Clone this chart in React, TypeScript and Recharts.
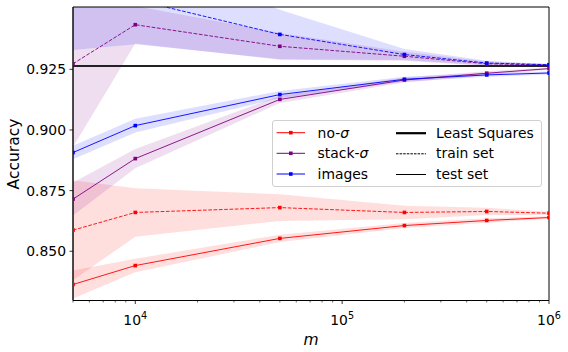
import {
  ComposedChart,
  Line,
  Area,
  XAxis,
  YAxis,
  ReferenceLine,
  ReferenceArea,
  Legend,
} from "recharts";

const M = [5000, 10000, 50000, 200000, 500000, 1000000];

const noSigmaTrain = [0.8587, 0.866, 0.868, 0.866, 0.8664, 0.8657];
const noSigmaTrainStd = [0.0206, 0.01, 0.0055, 0.0028, 0.0015, 0.0006];
const noSigmaTest = [0.8363, 0.8441, 0.8553, 0.8606, 0.8627, 0.8639];
const noSigmaTestStd = [0.0058, 0.0028, 0.0015, 0.001, 0.0009, 0.0005];

const stackTrain = [0.9273, 0.9434, 0.9345, 0.9304, 0.9273, 0.9268];
const stackTrainStd = [0.0343, 0.0077, 0.0055, 0.0019, 0.0009, 0.0004];
const stackTest = [0.8715, 0.8882, 0.9126, 0.9206, 0.9234, 0.9253];
const stackTestStd = [0.0068, 0.004, 0.0015, 0.001, 0.0008, 0.0005];

const imagesTrain = [0.958, 0.9537, 0.9394, 0.9311, 0.9276, 0.9269];
const imagesTrainStd = [0.025, 0.0184, 0.0102, 0.0023, 0.0009, 0.0003];
const imagesTest = [0.8907, 0.9018, 0.9146, 0.9209, 0.9227, 0.9235];
const imagesTestStd = [0.0028, 0.0028, 0.0015, 0.001, 0.0008, 0.0006];

const LEAST_SQUARES = 0.9264;

const X_TICKS = [
  5000, 6000, 7000, 8000, 9000, 10000, 20000, 30000, 40000, 50000, 60000,
  70000, 80000, 90000, 100000, 200000, 300000, 400000, 500000, 600000, 700000,
  800000, 900000, 1000000,
];
const Y_TICKS = [0.85, 0.875, 0.9, 0.925];
const Y_DOMAIN = [0.8297, 0.9507];

const FONT = "DejaVu Sans";

const SERIES = [
  { key: "no", name: "no-σ", color: "#ff0000", train: noSigmaTrain, trainStd: noSigmaTrainStd, test: noSigmaTest, testStd: noSigmaTestStd },
  { key: "stack", name: "stack-σ", color: "#800080", train: stackTrain, trainStd: stackTrainStd, test: stackTest, testStd: stackTestStd },
  { key: "images", name: "images", color: "#0000ff", train: imagesTrain, trainStd: imagesTrainStd, test: imagesTest, testStd: imagesTestStd },
];

const data = M.map((m, i) => {
  const row: Record<string, any> = { m };
  SERIES.forEach((s) => {
    row[`${s.key}Train`] = s.train[i];
    row[`${s.key}Test`] = s.test[i];
    row[`${s.key}TrainBand`] = [s.train[i] - s.trainStd[i], s.train[i] + s.trainStd[i]];
    row[`${s.key}TestBand`] = [s.test[i] - s.testStd[i], s.test[i] + s.testStd[i]];
  });
  return row;
});

const squareDot = (color: string) => (props: any) => {
  const { cx, cy, index } = props;
  if (cx == null || cy == null) return <g key={index} />;
  return <rect key={index} x={cx - 1.8} y={cy - 1.8} width={3.6} height={3.6} fill={color} />;
};

const LogTick = (props: any) => {
  const { x, y, payload } = props;
  const exp = Math.log10(payload.value);
  const major = Math.abs(exp - Math.round(exp)) < 1e-9;
  return (
    <g>
      <line x1={x} x2={x} y1={y} y2={y + (major ? 3.5 : 2)} stroke="#000" strokeWidth={major ? 0.8 : 0.6} />
      {major && (
        <text x={x} y={y + 24} textAnchor="middle" fontSize={13.9} fontFamily={FONT} fill="#000">
          10
          <tspan dy={-6} fontSize={9.7}>
            {Math.round(exp)}
          </tspan>
        </text>
      )}
    </g>
  );
};

const LegendBox = () => {
  const rows = [12.7, 33.3, 54];
  const right = [
    { label: "Least Squares", width: 2.2, dash: undefined },
    { label: "train set", width: 1, dash: "2.5 1.1" },
    { label: "test set", width: 1, dash: undefined },
  ];
  return (
    <div
      style={{
        position: "relative",
        width: 270,
        height: 67,
        boxSizing: "border-box",
        border: "1px solid #d0d0d0",
        borderRadius: 3,
        background: "rgba(255,255,255,0.8)",
      }}
    >
      <svg width={270} height={67} style={{ position: "absolute", left: -1, top: -1 }}>
        {SERIES.map((s, i) => (
          <g key={s.key}>
            <line x1={4.6} x2={33} y1={rows[i]} y2={rows[i]} stroke={s.color} strokeWidth={1} />
            <rect x={17} y={rows[i] - 1.8} width={3.6} height={3.6} fill={s.color} />
            <text x={45.6} y={rows[i]} dy="0.35em" fontSize={13.9} fontFamily={FONT} fill="#000">
              {s.name.endsWith("σ") ? (
                <>
                  {s.name.slice(0, -1)}
                  <tspan fontStyle="italic">σ</tspan>
                </>
              ) : (
                s.name
              )}
            </text>
          </g>
        ))}
        {right.map((r, i) => (
          <g key={r.label}>
            <line x1={124} x2={154} y1={rows[i] + 0.5} y2={rows[i] + 0.5} stroke="#000" strokeWidth={r.width} strokeDasharray={r.dash} />
            <text x={164} y={rows[i]} dy="0.35em" fontSize={13.9} fontFamily={FONT} fill="#000">
              {r.label}
            </text>
          </g>
        ))}
      </svg>
    </div>
  );
};

export default function App() {
  return (
    <div style={{ position: "absolute", left: 0, top: 0, width: 568, height: 352, background: "#fff" }}>
      <ComposedChart
        width={568}
        height={352}
        data={data}
        margin={{ top: 7, right: 19, bottom: 0, left: 0 }}
      >
        <XAxis
          dataKey="m"
          type="number"
          scale="log"
          domain={[5000, 1000000]}
          allowDataOverflow
          ticks={X_TICKS}
          interval={0}
          tick={<LogTick />}
          tickLine={false}
          tickSize={0}
          tickMargin={0}
          height={51.5}
          axisLine={{ stroke: "#000", strokeWidth: 0.8 }}
          label={{
            content: () => (
              <text x={311} y={345} textAnchor="middle" fontSize={15.5} fontStyle="italic" fontFamily={FONT} fill="#000">
                m
              </text>
            ),
          }}
        />
        <YAxis
          type="number"
          domain={Y_DOMAIN}
          allowDataOverflow
          ticks={Y_TICKS}
          width={73}
          tickSize={3.5}
          tickMargin={3.5}
          tickFormatter={(v: number) => v.toFixed(3)}
          tick={{ fontSize: 13.9, fontFamily: FONT, fill: "#000" }}
          tickLine={{ stroke: "#000", strokeWidth: 0.8 }}
          axisLine={{ stroke: "#000", strokeWidth: 0.8 }}
          label={{
            content: () => (
              <text x={19} y={154} transform="rotate(-90 19 154)" textAnchor="middle" fontSize={15.5} fontFamily={FONT} fill="#000">
                Accuracy
              </text>
            ),
          }}
        />
        {SERIES.flatMap((s) => [
          <Area
            key={`${s.key}-train-band`}
            type="linear"
            dataKey={`${s.key}TrainBand`}
            stroke="none"
            fill={s.color}
            fillOpacity={0.13}
            isAnimationActive={false}
            activeDot={false}
          />,
          <Area
            key={`${s.key}-test-band`}
            type="linear"
            dataKey={`${s.key}TestBand`}
            stroke="none"
            fill={s.color}
            fillOpacity={0.13}
            isAnimationActive={false}
            activeDot={false}
          />,
        ])}
        <ReferenceLine y={LEAST_SQUARES} stroke="#222" strokeWidth={2} />
        {SERIES.flatMap((s) => [
          <Line
            key={`${s.key}-train`}
            type="linear"
            dataKey={`${s.key}Train`}
            stroke={s.color}
            strokeWidth={0.9}
            strokeDasharray="3.7 1.6"
            dot={squareDot(s.color)}
            activeDot={false}
            isAnimationActive={false}
          />,
          <Line
            key={`${s.key}-test`}
            type="linear"
            dataKey={`${s.key}Test`}
            stroke={s.color}
            strokeWidth={0.9}
            dot={squareDot(s.color)}
            activeDot={false}
            isAnimationActive={false}
          />,
        ])}
        <ReferenceArea
          x1={5000}
          x2={1000000}
          y1={Y_DOMAIN[0]}
          y2={Y_DOMAIN[1]}
          fill="none"
          stroke="#000"
          strokeWidth={1}
          fillOpacity={0}
        />
        <Legend
          layout="horizontal"
          verticalAlign="middle"
          align="center"
          content={() => <LegendBox />}
          wrapperStyle={{ left: 272, top: 120, width: 271, height: 68, position: "absolute" }}
        />
      </ComposedChart>
    </div>
  );
}
